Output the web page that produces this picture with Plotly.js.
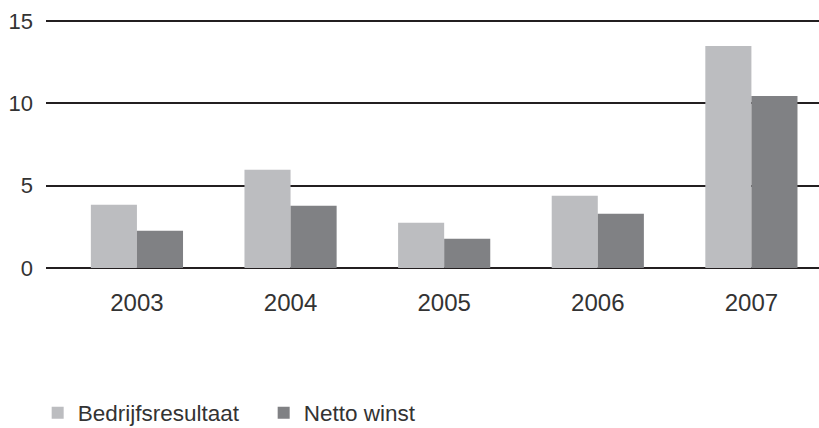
<!DOCTYPE html>
<html>
<head>
<meta charset="utf-8">
<script src="https://cdn.plot.ly/plotly-3.0.1.min.js"></script>
<style>html,body{margin:0;padding:0;background:#fff;}#chart{width:819px;height:428px;}</style>
</head>
<body>
<div id="chart"></div>
<script>
var years = ["2003", "2004", "2005", "2006", "2007"];
var bedrijfsresultaat = [3.84, 5.97, 2.75, 4.38, 13.48];
var nettoWinst = [2.26, 3.78, 1.78, 3.29, 10.45];
var seriesNames = ["Bedrijfsresultaat", "Netto winst"];
var yTicks = [0, 5, 10, 15];

var fontFamily = "Liberation Sans, Arial, sans-serif";

var data = [
  {type: "bar", name: seriesNames[0], x: years, y: bedrijfsresultaat,
   marker: {color: "#bcbdc0"}, hoverinfo: "x+y+name"},
  {type: "bar", name: seriesNames[1], x: years, y: nettoWinst,
   marker: {color: "#808184"}, hoverinfo: "x+y+name"}
];

var layout = {
  width: 819, height: 428,
  margin: {l: 46, r: 0, t: 16, b: 159.7, autoexpand: false},
  paper_bgcolor: "#fff", plot_bgcolor: "#fff",
  barmode: "group", bargap: 0.4, bargroupgap: 0,
  font: {family: fontFamily, color: "#333", size: 20},
  xaxis: {
    type: "category", range: [-0.592, 4.44],
    showgrid: false, showline: false, zeroline: false, ticks: "",
    tickfont: {size: 24, color: "#333"}, ticklabelstandoff: 18,
    fixedrange: true
  },
  yaxis: {
    range: [0, 15.3], tickvals: yTicks, ticktext: yTicks.map(String),
    showgrid: true, gridcolor: "#231f20", gridwidth: 2,
    zeroline: true, zerolinecolor: "#231f20", zerolinewidth: 2,
    showline: false, ticks: "",
    tickfont: {size: 22, color: "#333"}, ticklabelstandoff: 12,
    fixedrange: true
  },
  showlegend: true,
  legend: {
    orientation: "h", xref: "container", yref: "container",
    x: 0.046, xanchor: "left", y: 0.035, yanchor: "middle",
    font: {size: 22.5, color: "#333"}, entrywidth: 181, entrywidthmode: "pixels",
    bgcolor: "rgba(0,0,0,0)", traceorder: "normal"
  }
};

Plotly.newPlot("chart", data, layout, {displayModeBar: false, staticPlot: true});
</script>
</body>
</html>
